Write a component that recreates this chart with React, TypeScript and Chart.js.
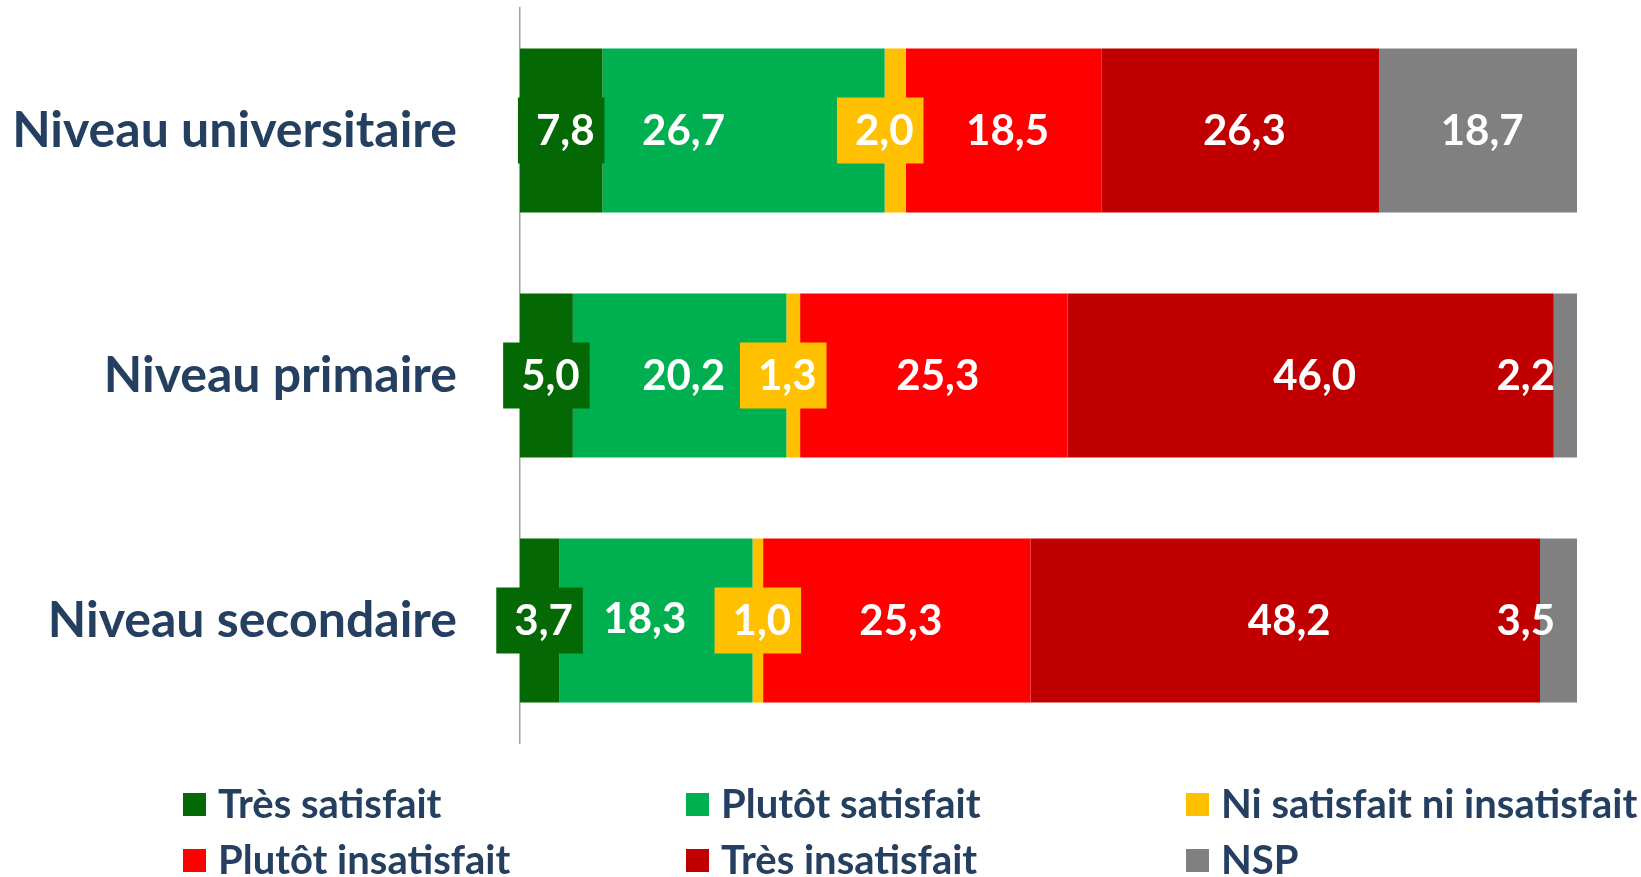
import React, { useEffect, useRef } from 'react';
import { Chart, registerables } from 'chart.js';

Chart.register(...registerables);

// ---- data ----
const categories = ['Niveau universitaire', 'Niveau primaire', 'Niveau secondaire'];
const seriesNames = [
  'Très satisfait',
  'Plutôt satisfait',
  'Ni satisfait ni insatisfait',
  'Plutôt insatisfait',
  'Très insatisfait',
  'NSP',
];
const tresSatisfait = [7.8, 5.0, 3.7];
const plutotSatisfait = [26.7, 20.2, 18.3];
const niSatisfait = [2.0, 1.3, 1.0];
const plutotInsatisfait = [18.5, 25.3, 25.3];
const tresInsatisfait = [26.3, 46.0, 48.2];
const nsp = [18.7, 2.2, 3.5];

// ---- styles ----
const colors = ['#046904', '#00B050', '#FFC000', '#FF0000', '#C00000', '#808080'];
const textColor = '#243F60';
const FONT = 'Lato, "Open Sans", sans-serif';
const boxedSeries = [0, 2];
// label adjustments (pixels) relative to the segment centre
const labelNudge: Record<string, [number, number]> = {
  '1-0': [-64, 0],
  '1-2': [-15, -2],
  '2-0': [-15, 0],
  '2-1': [-10, 0],
};

const segLabels = {
  id: 'segLabels',
  afterDatasetsDraw(chart: any) {
    const ctx = chart.ctx;
    ctx.save();
    ctx.font = `bold 42px ${FONT}`;
    ctx.textBaseline = 'middle';
    ctx.textAlign = 'center';
    chart.data.datasets.forEach((ds: any, di: number) => {
      const meta = chart.getDatasetMeta(di);
      meta.data.forEach((el: any, pi: number) => {
        const v = ds.data[pi] as number;
        const text = v.toFixed(1).replace('.', ',');
        const w = ctx.measureText(text).width;
        const left = Math.min(el.x, el.base);
        const right = Math.max(el.x, el.base);
        let cx = (left + right) / 2 + 4;
        let cy = el.y;
        const boxed = boxedSeries.includes(di);
        if (!boxed && w + 8 > right - left) cx = chart.chartArea.right - 22 - w / 2;
        const n = labelNudge[`${di}-${pi}`] || [0, 0];
        cx += n[0];
        cy += n[1];
        if (boxed) {
          ctx.fillStyle = colors[di];
          ctx.fillRect(cx - 4 - w / 2 - 14, cy - 33, w + 28, 66);
        }
        ctx.fillStyle = '#FFFFFF';
        ctx.fillText(text, cx, cy + 1);
      });
    });
    ctx.restore();
  },
};

const customLegend = {
  id: 'customLegend',
  afterDraw(chart: any) {
    const ctx = chart.ctx;
    ctx.save();
    ctx.font = `bold 40px ${FONT}`;
    ctx.textBaseline = 'middle';
    ctx.textAlign = 'left';
    const colX = [183, 686, 1186];
    const rowY = [804, 860];
    chart.data.datasets.forEach((ds: any, i: number) => {
      const x = colX[i % 3];
      const y = rowY[Math.floor(i / 3)];
      ctx.fillStyle = ds.backgroundColor;
      ctx.fillRect(x, y - 11, 23, 23);
      ctx.fillStyle = textColor;
      ctx.fillText(ds.label, x + 35, y + 1);
    });
    ctx.restore();
  },
};

export default function App() {
  const ref = useRef<HTMLCanvasElement>(null);
  useEffect(() => {
    const series = [tresSatisfait, plutotSatisfait, niSatisfait, plutotInsatisfait, tresInsatisfait, nsp];
    const chart = new Chart(ref.current as HTMLCanvasElement, {
      type: 'bar',
      data: {
        labels: categories,
        datasets: series.map((d, i) => ({
          label: seriesNames[i],
          data: d,
          backgroundColor: colors[i],
          borderWidth: 0,
          barPercentage: 1,
          categoryPercentage: 0.67,
        })),
      },
      options: {
        indexAxis: 'y',
        animation: false,
        responsive: true,
        maintainAspectRatio: false,
        layout: { padding: { left: 0, right: 64, top: 8, bottom: 134 } },
        plugins: {
          legend: { display: false },
          tooltip: { enabled: false },
        },
        scales: {
          x: { stacked: true, display: false, min: 0, max: 100 },
          y: {
            stacked: true,
            grid: { display: false, drawTicks: false },
            border: { display: true, color: '#A0A0A0', width: 1.5 },
            ticks: {
              color: textColor,
              padding: 63,
              font: { family: FONT, size: 50, weight: 'bold' },
            },
            afterFit(scale: any) {
              scale.width = 520;
              scale.paddingTop = 0;
              scale.paddingBottom = 0;
            },
          },
        },
      },
      plugins: [segLabels, customLegend],
    } as any);
    return () => chart.destroy();
  }, []);
  return (
    <div style={{ position: 'fixed', left: 0, top: 0, width: 1641, height: 877, background: '#fff' }}>
      <canvas ref={ref} />
    </div>
  );
}
